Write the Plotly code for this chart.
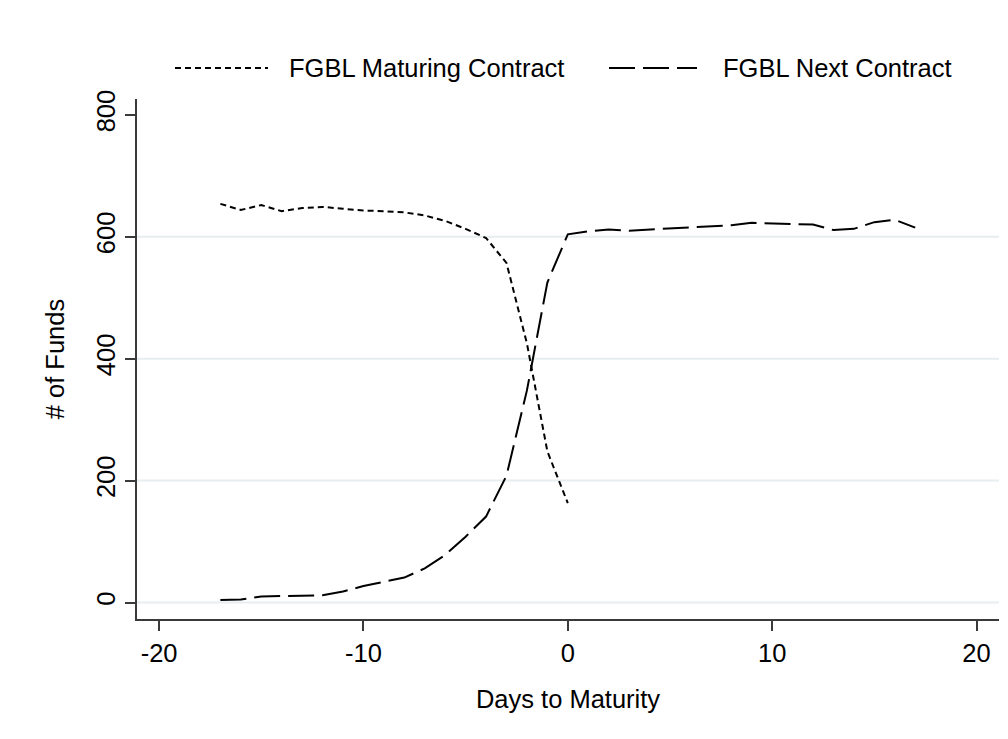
import plotly.graph_objects as go

# ---- data ----
days_maturing = [-17, -16, -15, -14, -13, -12, -11, -10, -9, -8, -7, -6, -5, -4, -3, -2, -1, 0]
funds_maturing = [654, 644, 652, 642, 647, 649, 646, 643, 642, 640, 635, 626, 613, 598, 557, 425, 248, 163]

days_next = list(range(-17, 18))
funds_next = [4, 5, 10, 11, 11, 12, 18, 27, 34, 41, 56, 78, 108, 141, 208, 348, 525, 604,
              609, 612, 610, 612, 614, 615, 618, 619, 623, 622, 622, 620, 611, 613, 624, 628, 615]

series_names = ["FGBL Maturing Contract", "FGBL Next Contract"]
x_ticks = [-20, -10, 0, 10, 20]
y_ticks = [0, 200, 400, 600, 800]
grid_values = [0, 200, 400, 600]

FONT = "Liberation Sans, Arial, sans-serif"
FS = 25.5
DOT = "6px,4px"
DASH = "26px,8px"

fig = go.Figure()
fig.add_trace(go.Scatter(x=days_maturing, y=funds_maturing, mode="lines", name=series_names[0],
                         line=dict(color="black", width=2, dash=DOT), showlegend=False))
fig.add_trace(go.Scatter(x=days_next, y=funds_next, mode="lines", name=series_names[1],
                         line=dict(color="black", width=2, dash=DASH), showlegend=False))

shapes = []
for g in grid_values:
    shapes.append(dict(type="line", xref="paper", yref="y", x0=0, x1=1, y0=g, y1=g,
                       line=dict(color="#e6eef0", width=2), layer="below"))

# manual legend (paper coords)
def px_x(p):
    return (p - 137) / 862.0

def px_y(p):
    return (619 - p) / 520.0

ly = px_y(68)
shapes.append(dict(type="line", xref="paper", yref="paper", x0=px_x(175), x1=px_x(268), y0=ly, y1=ly,
                   line=dict(color="black", width=2, dash=DOT)))
shapes.append(dict(type="line", xref="paper", yref="paper", x0=px_x(609), x1=px_x(697), y0=ly, y1=ly,
                   line=dict(color="black", width=2, dash=DASH)))

annotations = [
    dict(xref="paper", yref="paper", x=px_x(287), y=ly, text=series_names[0], showarrow=False,
         xanchor="left", yanchor="middle", font=dict(family=FONT, size=FS, color="black")),
    dict(xref="paper", yref="paper", x=px_x(721), y=ly, text=series_names[1], showarrow=False,
         xanchor="left", yanchor="middle", font=dict(family=FONT, size=FS, color="black")),
]

fig.update_layout(
    width=1008, height=739,
    margin=dict(l=137, r=9, t=99, b=120),
    paper_bgcolor="white", plot_bgcolor="white",
    font=dict(family=FONT, size=FS, color="black"),
    shapes=shapes, annotations=annotations,
    showlegend=False,
)
fig.update_xaxes(range=[-21.08, 21.1], tickvals=x_ticks, ticktext=[str(v) for v in x_ticks],
                 showgrid=False, zeroline=False, showline=True, linecolor="#3a3a3a", linewidth=2,
                 ticks="outside", ticklen=10, tickwidth=1.5, tickcolor="#3a3a3a",
                 tickfont=dict(family=FONT, size=FS, color="black"),
                 title=dict(text="Days to Maturity", font=dict(family=FONT, size=FS, color="black"), standoff=25))
fig.update_yaxes(range=[-27, 826], tickvals=y_ticks, ticktext=[str(v) for v in y_ticks],
                 showgrid=False, zeroline=False, showline=True, linecolor="#3a3a3a", linewidth=2,
                 ticks="outside", ticklen=10, tickwidth=1.5, tickcolor="#3a3a3a", tickangle=-90,
                 tickfont=dict(family=FONT, size=FS, color="black"),
                 title=dict(text="# of Funds", font=dict(family=FONT, size=FS, color="black"), standoff=20))

fig.write_html("out.html")
